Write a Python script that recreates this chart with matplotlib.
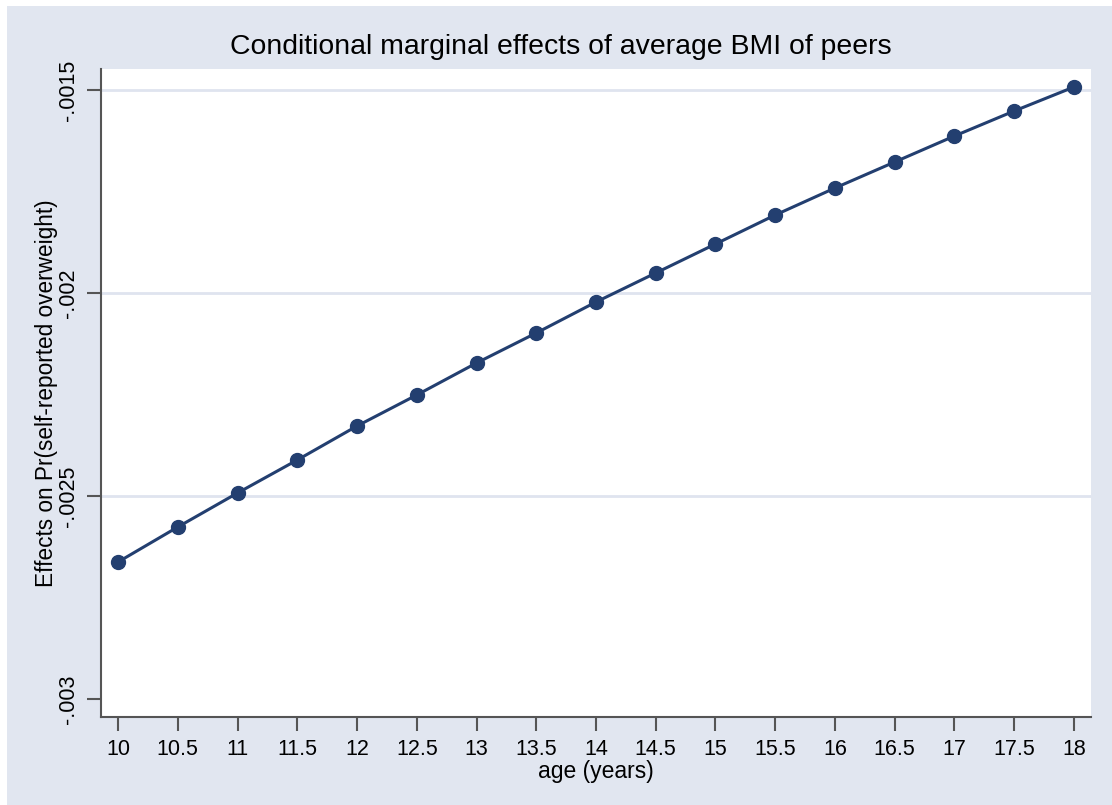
import numpy as np
import matplotlib.pyplot as plt
from matplotlib.patches import Rectangle

plt.rcParams['font.family'] = ['Liberation Sans', 'DejaVu Sans']

age = [10, 10.5, 11, 11.5, 12, 12.5, 13, 13.5, 14, 14.5, 15, 15.5, 16, 16.5, 17, 17.5, 18]
effect = [-0.0026626, -0.0025764, -0.0024926, -0.0024113, -0.0023276, -0.0022512,
          -0.0021724, -0.0020985, -0.0020222, -0.0019507, -0.0018793, -0.0018079,
          -0.0017414, -0.0016773, -0.0016133, -0.0015517, -0.0014926]
yticks = [-0.003, -0.0025, -0.002, -0.0015]
ylabels = ['-.003', '-.0025', '-.002', '-.0015']
xticks = [10, 10.5, 11, 11.5, 12, 12.5, 13, 13.5, 14, 14.5, 15, 15.5, 16, 16.5, 17, 17.5, 18]
xlabels = ['10', '10.5', '11', '11.5', '12', '12.5', '13', '13.5', '14', '14.5',
           '15', '15.5', '16', '16.5', '17', '17.5', '18']

bg = '#e1e6f0'
navy = '#233f70'

fig = plt.figure(figsize=(11.12, 8.05), dpi=100)
fig.patch.set_facecolor(bg)
# thin white strip along top and left edges
fig.patches.append(Rectangle((0, 0), 7/1112, 1, transform=fig.transFigure,
                             facecolor='white', edgecolor='none', zorder=-10))
fig.patches.append(Rectangle((0, 1 - 6/805), 1, 6/805, transform=fig.transFigure,
                             facecolor='white', edgecolor='none', zorder=-10))

ax = fig.add_axes([101/1112, (805-717)/805, (1091-101)/1112, (717-69)/805])
ax.set_facecolor('white')

for v in yticks[1:]:
    ax.axhline(v, color='#dfe4ef', lw=2, zorder=1)

ax.plot(age, effect, color=navy, lw=2.2, marker='o', ms=10, zorder=3)

ax.set_xlim(9.8577, 18.1423)
ax.set_ylim(-0.0030443, -0.0014483)
ax.set_xticks(xticks)
ax.set_xticklabels(xlabels, fontsize=15.5)
ax.set_yticks(yticks)
ax.set_yticklabels(ylabels, fontsize=15.5, rotation=90, va='center')

for s in ['top', 'right']:
    ax.spines[s].set_visible(False)
for s in ['left', 'bottom']:
    ax.spines[s].set_color('#555555')
    ax.spines[s].set_linewidth(1.5)
ax.tick_params(axis='both', length=10, width=1.5, color='#555555', pad=6)

ax.set_xlabel('age (years)', fontsize=16.5, labelpad=0)
ax.set_ylabel('Effects on Pr(self-reported overweight)', fontsize=16.3, labelpad=0)
fig.text(561/1112, 1 - 47/805, 'Conditional marginal effects of average BMI of peers',
         fontsize=20.4, ha='center', va='center')

fig.savefig('out.png', dpi=100, facecolor=fig.get_facecolor())
